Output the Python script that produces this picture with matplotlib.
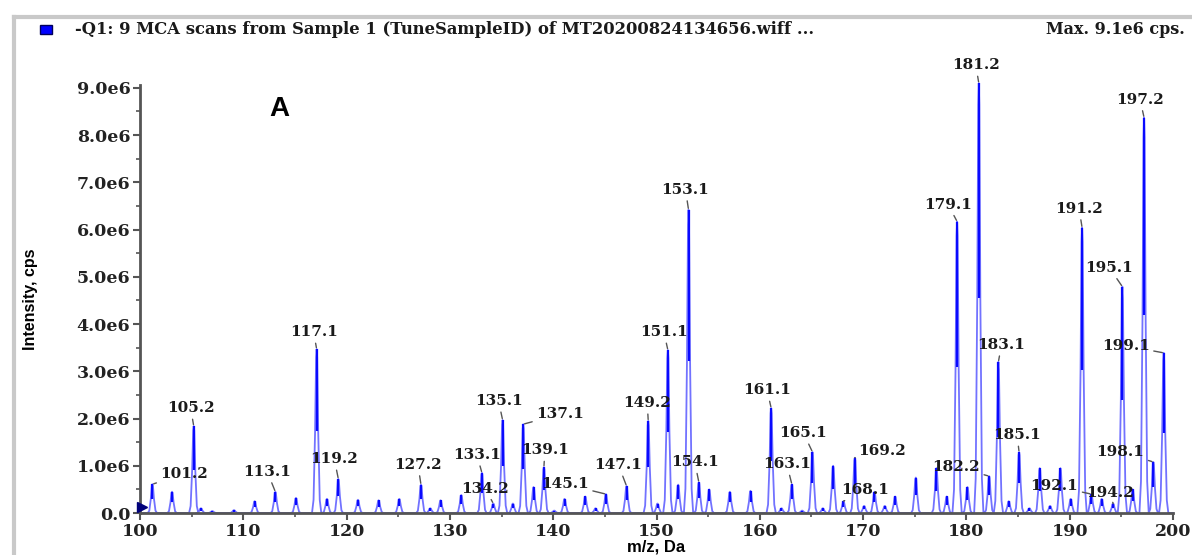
import numpy as np
import matplotlib
matplotlib.use("Agg")
import matplotlib.pyplot as plt
from matplotlib.lines import Line2D
from matplotlib.patches import Rectangle
from matplotlib.ticker import MultipleLocator, FuncFormatter

# peak list: m/z and intensity (in 1e6 cps)
mz = [101.2, 103.1, 105.2, 105.9, 107.0, 109.1, 111.1, 113.1, 115.1, 117.1,
      118.1, 119.2, 121.1, 123.1, 125.1, 127.2, 128.1, 129.1, 131.1, 133.1,
      134.2, 135.1, 136.1, 137.1, 138.1, 139.1, 140.1, 141.1, 143.1, 144.1,
      145.1, 147.1, 149.2, 150.1, 151.1, 152.1, 153.1, 154.1, 155.1, 157.1,
      159.1, 161.1, 162.1, 163.1, 164.1, 165.1, 166.1, 167.1, 168.1, 169.2,
      170.1, 171.1, 172.1, 173.1, 175.1, 177.1, 178.1, 179.1, 180.1, 181.2,
      182.2, 183.1, 184.1, 185.1, 186.1, 187.1, 188.1, 189.1, 190.1, 191.2,
      192.1, 193.1, 194.2, 195.1, 196.1, 197.2, 198.1, 199.1]
intensity = [0.61, 0.45, 1.84, 0.10, 0.04, 0.06, 0.25, 0.45, 0.32, 3.47,
             0.30, 0.72, 0.28, 0.27, 0.30, 0.60, 0.10, 0.27, 0.38, 0.85,
             0.20, 1.97, 0.20, 1.88, 0.55, 0.97, 0.05, 0.30, 0.35, 0.10,
             0.40, 0.57, 1.95, 0.20, 3.45, 0.60, 6.42, 0.65, 0.50, 0.45,
             0.47, 2.22, 0.10, 0.61, 0.05, 1.29, 0.10, 1.00, 0.25, 1.17,
             0.15, 0.45, 0.15, 0.35, 0.75, 0.95, 0.35, 6.17, 0.55, 9.10,
             0.78, 3.20, 0.25, 1.29, 0.10, 0.95, 0.15, 0.95, 0.30, 6.04,
             0.40, 0.30, 0.20, 4.79, 0.50, 8.37, 1.08, 3.39]

# labelled peaks and where their labels sit (offset in pixels from peak top)
labels = ["101.2", "105.2", "113.1", "117.1", "119.2", "127.2", "133.1", "134.2",
          "135.1", "137.1", "139.1", "145.1", "147.1", "149.2", "151.1", "153.1",
          "154.1", "161.1", "163.1", "165.1", "168.1", "169.2", "179.1", "181.2",
          "182.2", "183.1", "185.1", "191.2", "192.1", "194.2", "195.1", "197.2",
          "198.1", "199.1"]
label_dx = [32, -3, -8, -3, -4, -3, -5, -8, -4, 37, 1, -41, -8, -1, -4, -3,
            -4, -4, -5, -9, 22, 27, -9, -3, -33, 3, -2, -3, -37, -3, -13, -4,
            -33, -38]
label_dy = [10, 18, 20, 17, 20, 20, 18, 15, 19, 10, 17, 10, 21, 18, 18, 20,
            20, 18, 20, 19, 11, 7, 17, 18, 9, 17, 17, 19, 8, 11, 19, 18,
            10, 7]

plt.rcParams["font.family"] = ["DejaVu Serif"]

fig = plt.figure(figsize=(11.92, 5.55), dpi=100)
ax = fig.add_axes([140 / 1192, 1 - 513 / 555, 1033 / 1192, 428 / 555])

# profile trace: each peak drawn as a narrow shape around its centroid
shape_dx = [-0.45, -0.3, -0.15, -0.05, 0.0, 0.05, 0.15, 0.3, 0.45]
shape_fy = [0.0, 0.08, 0.5, 0.95, 1.0, 0.95, 0.5, 0.08, 0.0]
xs, ys = [100.0], [0.0]
for m, h in zip(mz, intensity):
    for d, f in zip(shape_dx, shape_fy):
        xs.append(m + d)
        ys.append(h * 1e6 * f)
xs.append(200.0)
ys.append(0.0)
ax.plot(xs, ys, color="#7272ff", lw=1.3, clip_on=False, zorder=2)
ax.vlines(mz, [h * 1e6 * 0.5 for h in intensity], [h * 1e6 for h in intensity],
          color="#0a0aff", lw=1.6, zorder=3, clip_on=False)
ax.plot([100.15], [0.12e6], marker=">", color="#00007a", ms=7, clip_on=False, zorder=4)

for lab, dx, dy in zip(labels, label_dx, label_dy):
    i = mz.index(float(lab))
    ax.annotate(lab, xy=(mz[i], intensity[i] * 1e6), xytext=(dx, dy),
                textcoords="offset pixels", ha="center", va="center",
                fontsize=11, fontweight="bold", color="#1a1a1a",
                arrowprops=dict(arrowstyle="-", color="#555555", lw=1,
                                shrinkA=1, shrinkB=1),
                zorder=5, annotation_clip=False)

ax.set_xlim(100, 200)
ax.set_ylim(0, 9.06e6)
ax.xaxis.set_major_locator(MultipleLocator(10))
ax.xaxis.set_minor_locator(MultipleLocator(5))
ax.yaxis.set_major_locator(MultipleLocator(1e6))
ax.yaxis.set_minor_locator(MultipleLocator(0.5e6))
ax.yaxis.set_major_formatter(
    FuncFormatter(lambda v, p: "0.0" if v == 0 else f"{v / 1e6:.1f}e6"))
for s in ["top", "right"]:
    ax.spines[s].set_visible(False)
for s in ["left", "bottom"]:
    ax.spines[s].set_color("#555555")
    ax.spines[s].set_linewidth(2)
ax.tick_params(which="major", length=5, width=1.5, color="#555555", pad=2,
               labelsize=12.5, labelcolor="#222222")
ax.tick_params(which="minor", length=3, width=1.2, color="#555555")
for t in ax.get_xticklabels() + ax.get_yticklabels():
    t.set_fontweight("bold")

ax.set_ylabel("Intensity, cps", family="Liberation Sans", fontweight="bold",
              fontsize=11.5, labelpad=28)
ax.set_xlabel("m/z, Da", family="Liberation Sans", fontweight="bold",
              fontsize=12, labelpad=0)
ax.text(0.135, 0.945, "A", transform=ax.transAxes, family="Liberation Sans",
        fontweight="bold", fontsize=20, ha="center", va="center")

# window frame and header
fig.add_artist(Line2D([14 / 1192, 1], [1 - 17 / 555] * 2, color="#c9c9c9", lw=3))
fig.add_artist(Line2D([14 / 1192] * 2, [0, 1 - 17 / 555], color="#c9c9c9", lw=3))
fig.add_artist(Rectangle((40 / 1192, 1 - 34 / 555), 12 / 1192, 9 / 555,
                         facecolor="#0000ff", edgecolor="#00005a", lw=1))
fig.text(75 / 1192, 1 - 30 / 555,
         "-Q1: 9 MCA scans from Sample 1 (TuneSampleID) of MT20200824134656.wiff ...",
         fontsize=11.8, fontweight="bold", va="center", ha="left", color="#1a1a1a")
fig.text(1185 / 1192, 1 - 30 / 555, "Max. 9.1e6 cps.", fontsize=11.5,
         fontweight="bold", va="center", ha="right", color="#1a1a1a")

fig.savefig("out.png", dpi=100)
